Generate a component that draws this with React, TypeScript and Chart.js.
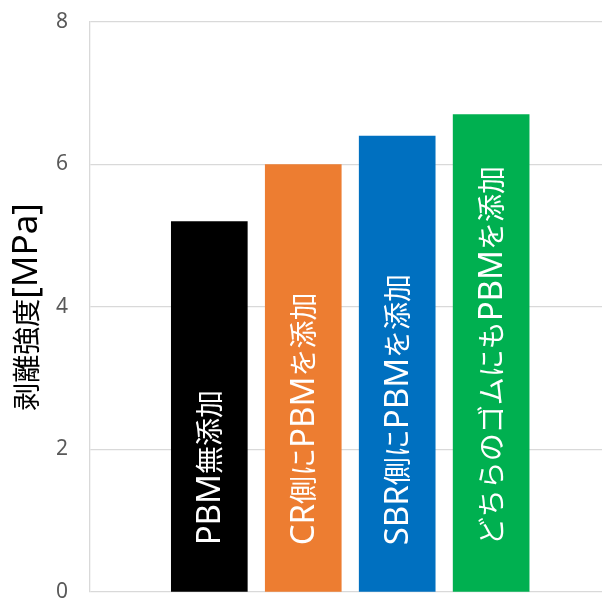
import { useEffect, useRef } from 'react';
import { Chart, registerables, Plugin } from 'chart.js';

Chart.register(...registerables);

// Data
const categories = ['PBM無添加', 'CR側にPBMを添加', 'SBR側にPBMを添加', 'どちらのゴムにもPBMを添加'];
const strengths = [5.2, 6.0, 6.4, 6.7];
const barColors = ['#000000', '#ED7D31', '#0070C0', '#00B050'];
const yTitle = '剥離強度[MPa]';

const CJK_FONT = '"Noto Sans CJK JP", sans-serif';
const LATIN_FONT = '"Noto Sans", sans-serif';

// Split text into latin / CJK runs so latin letters can be drawn larger (like Meiryo)
function runs(text: string) {
  return text.match(/[A-Za-z\[\]]+|[^A-Za-z\[\]]+/g) || [];
}

function drawMixed(ctx: CanvasRenderingContext2D, text: string, x: number, y: number, cjkSize: number, latinSize: number, measureOnly = false) {
  let cx = x;
  runs(text).forEach((r) => {
    const latin = /^[A-Za-z\[\]]/.test(r);
    ctx.font = latin ? `${latinSize}px ${LATIN_FONT}` : `${cjkSize}px ${CJK_FONT}`;
    if (!measureOnly) ctx.fillText(r, cx, y);
    cx += ctx.measureText(r).width;
  });
  return cx - x;
}

// Category names inside each bar, reading bottom to top
const barLabels: Plugin<'bar'> = {
  id: 'barLabels',
  afterDatasetsDraw(chart) {
    const { ctx } = chart;
    const meta = chart.getDatasetMeta(0);
    meta.data.forEach((bar: any, i) => {
      ctx.save();
      ctx.translate(bar.x, bar.base - 46);
      ctx.rotate(-Math.PI / 2);
      ctx.fillStyle = '#ffffff';
      ctx.textAlign = 'left';
      ctx.textBaseline = 'alphabetic';
      drawMixed(ctx, categories[i], 0, 10.5, 28, 33);
      ctx.restore();
    });
  },
};

// Rotated y axis title
const yAxisTitle: Plugin<'bar'> = {
  id: 'yAxisTitle',
  afterDraw(chart) {
    const { ctx, chartArea } = chart;
    ctx.save();
    ctx.translate(26.5, (chartArea.top + chartArea.bottom) / 2);
    ctx.rotate(-Math.PI / 2);
    ctx.fillStyle = '#000000';
    ctx.textAlign = 'left';
    ctx.textBaseline = 'alphabetic';
    const w = drawMixed(ctx, yTitle, 0, 0, 28, 35, true);
    drawMixed(ctx, yTitle, -w / 2, 10.5, 28, 35);
    ctx.restore();
  },
};

export default function App() {
  const canvasRef = useRef<HTMLCanvasElement>(null);
  const chartInstance = useRef<Chart | null>(null);

  useEffect(() => {
    document.body.style.margin = '0';
    if (!canvasRef.current) return;
    if (chartInstance.current) chartInstance.current.destroy();

    chartInstance.current = new Chart(canvasRef.current, {
      type: 'bar',
      data: {
        datasets: [
          {
            label: yTitle,
            data: strengths.map((v, i) => ({ x: i + 1, y: v })),
            backgroundColor: barColors,
            borderWidth: 0,
            barThickness: 76,
          },
        ],
      },
      options: {
        responsive: true,
        maintainAspectRatio: false,
        animation: false,
        layout: { padding: { top: 22, bottom: 6, left: 0, right: 0 } },
        plugins: {
          legend: { display: false },
          tooltip: { enabled: false },
        },
        scales: {
          x: {
            type: 'linear',
            min: -0.27,
            max: 5.18,
            offset: false,
            display: false,
          },
          y: {
            min: 0,
            max: 8,
            ticks: {
              stepSize: 2,
              padding: 22,
              color: '#595959',
              font: { family: LATIN_FONT, size: 21 },
            },
            grid: { color: '#d9d9d9', lineWidth: 1.3, drawTicks: false },
            border: { display: true, color: '#d9d9d9', width: 1.3 },
            afterFit: (scale: any) => {
              scale.width = 90;
              scale.paddingTop = 0;
              scale.paddingBottom = 0;
            },
          },
        },
      },
      plugins: [barLabels, yAxisTitle],
    });

    return () => {
      if (chartInstance.current) {
        chartInstance.current.destroy();
        chartInstance.current = null;
      }
    };
  }, []);

  return (
    <div style={{ width: 602, height: 598, position: 'relative' }}>
      <canvas ref={canvasRef}></canvas>
    </div>
  );
}
